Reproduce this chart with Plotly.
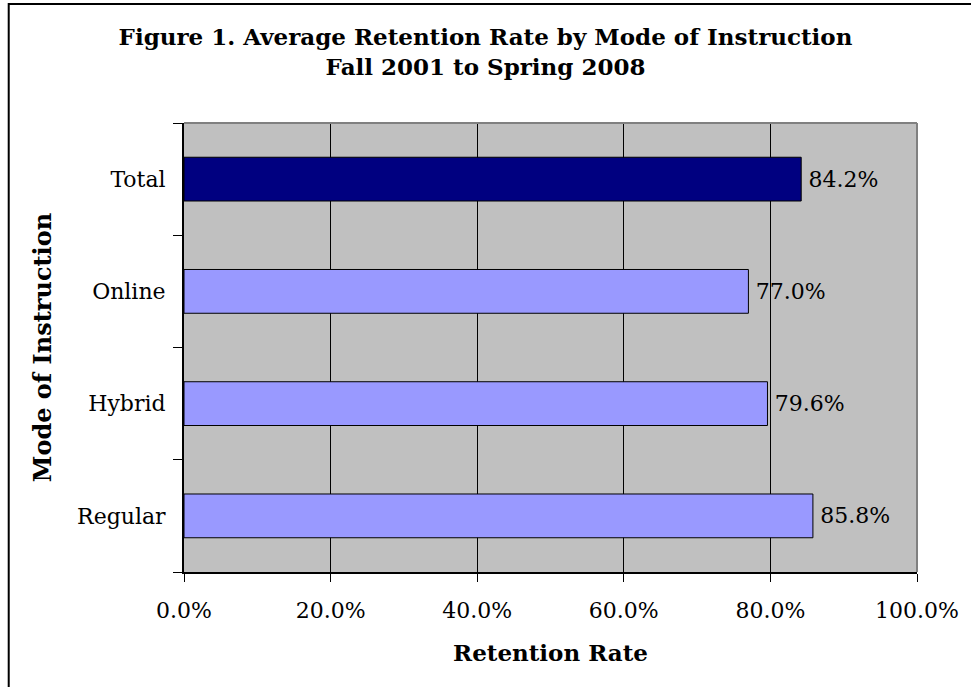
import plotly.graph_objects as go

categories = ["Regular", "Hybrid", "Online", "Total"]
retention = [85.8, 79.6, 77.0, 84.2]
bar_colors = ["#9999FF", "#9999FF", "#9999FF", "#000080"]
x_ticks = [0, 20, 40, 60, 80, 100]
x_tick_labels = ["0.0%", "20.0%", "40.0%", "60.0%", "80.0%", "100.0%"]

FONT = "DejaVu Serif"
W, H = 971, 687
L, R, T, B = 184, 51, 123, 115
pw, ph = W - L - R, H - T - B

fig = go.Figure(go.Bar(
    y=categories, x=retention, orientation="h",
    marker=dict(color=bar_colors, line=dict(color="black", width=1)),
    text=[f"{v:.1f}%" for v in retention], textposition="outside",
    texttemplate="\u2009%{text}",
    textfont=dict(family=FONT, size=22, color="black"),
    cliponaxis=False, width=0.39,
))

fig.update_layout(
    width=W, height=H,
    margin=dict(l=L, r=R, t=T, b=B),
    paper_bgcolor="white", plot_bgcolor="#C0C0C0",
    showlegend=False,
    font=dict(family=FONT, color="black"),
    title=dict(
        text="<b>Figure 1. Average Retention Rate by Mode of Instruction<br>Fall 2001 to Spring 2008</b>",
        x=0.5, xanchor="center", y=1 - 45 / H, yanchor="middle",
        font=dict(family=FONT, size=23, color="black"),
    ),
    xaxis=dict(
        range=[0, 100], tickvals=x_ticks, ticktext=x_tick_labels,
        showgrid=True, gridcolor="black", gridwidth=1,
        showline=True, linecolor="black", linewidth=2,
        ticks="outside", ticklen=8, tickcolor="black", tickwidth=1,
        tickfont=dict(family=FONT, size=22), zeroline=False,
        ticklabelstandoff=10,
        title=dict(text="<b>Retention Rate</b>", font=dict(family=FONT, size=23), standoff=22),
        fixedrange=True,
    ),
    yaxis=dict(
        showline=True, linecolor="black", linewidth=2,
        ticks="outside", ticklen=9, tickcolor="black", tickson="boundaries",
        tickfont=dict(family=FONT, size=22), showgrid=False,
        title=dict(text="<b>Mode of Instruction</b>", font=dict(family=FONT, size=24), standoff=19),
        ticklabelstandoff=12, fixedrange=True,
    ),
    shapes=[
        dict(type="line", xref="paper", yref="paper", x0=0, x1=1, y0=1, y1=1,
             line=dict(color="#808080", width=2)),
        dict(type="line", xref="paper", yref="paper", x0=1, x1=1, y0=0, y1=1,
             line=dict(color="#808080", width=2)),
        dict(type="rect", xref="paper", yref="paper",
             x0=(8 - L) / pw, x1=(W + 20 - L) / pw,
             y0=(T + ph - (H + 20)) / ph, y1=(T + ph - 4) / ph,
             line=dict(color="black", width=2), fillcolor="rgba(0,0,0,0)", layer="below"),
    ],
)

fig.write_html(
    "out.html",
    config={"displayModeBar": False},
    post_script="document.body.style.margin='0';document.body.style.overflow='hidden';",
)
